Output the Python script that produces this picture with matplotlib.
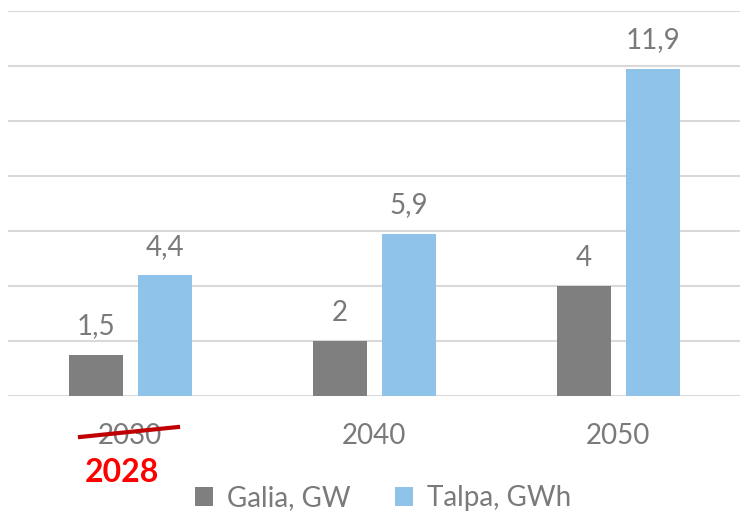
import numpy as np
import matplotlib.pyplot as plt

plt.rcParams['font.family'] = ['Lato', 'DejaVu Sans']

years = ['2030', '2040', '2050']
galia = [1.5, 2, 4]
talpa = [4.4, 5.9, 11.9]
galia_labels = ['1,5', '2', '4']
talpa_labels = ['4,4', '5,9', '11,9']

fig = plt.figure(figsize=(7.4, 5.15), dpi=100)
ax = fig.add_axes([0.011, 0.231, 0.989, 0.748])

x = np.arange(len(years))
w = 0.222
b1 = ax.bar(x - 0.14, galia, w, color='#7f7f7f', label='Galia, GW', zorder=3)
b2 = ax.bar(x + 0.142, talpa, w, color='#8fc3ea', label='Talpa, GWh', zorder=3)

for bars, labs in ((b1, galia_labels), (b2, talpa_labels)):
    for r, t in zip(bars, labs):
        ax.annotate(t, (r.get_x() + r.get_width() / 2, r.get_height()),
                    xytext=(0, 11), textcoords='offset points',
                    ha='center', va='bottom', fontsize=20, color='#7a7a7a')

ax.set_xlim(-0.5, 2.5)
ax.set_ylim(0, 14)
ax.set_yticks(np.arange(0, 15, 2))
ax.yaxis.grid(True, color='#d9d9d9', linewidth=1.5, zorder=0)
ax.tick_params(left=False, bottom=False, labelleft=False)
for s in ax.spines.values():
    s.set_visible(False)
ax.set_xticks(x)
ax.set_xticklabels(years, fontsize=20, color='#7a7a7a')
ax.tick_params(axis='x', pad=16)

# correction of the first year
fig.add_artist(plt.Line2D([80 / 740, 178 / 740], [1 - 437 / 515, 1 - 427 / 515],
                          color='#c00000', linewidth=3))
fig.text(122 / 740, 1 - 472 / 515, '2028', color='#ff0000', fontsize=23,
         fontweight='bold', ha='center', va='center')

fig.legend(loc='center', bbox_to_anchor=(383 / 740, 1 - 498 / 515), ncol=2,
           frameon=False, labelcolor='#7a7a7a',
           prop={'size': 20},
           handlelength=0.65, handleheight=0.65, handletextpad=0.5,
           columnspacing=1.6)

fig.savefig('out.png')
